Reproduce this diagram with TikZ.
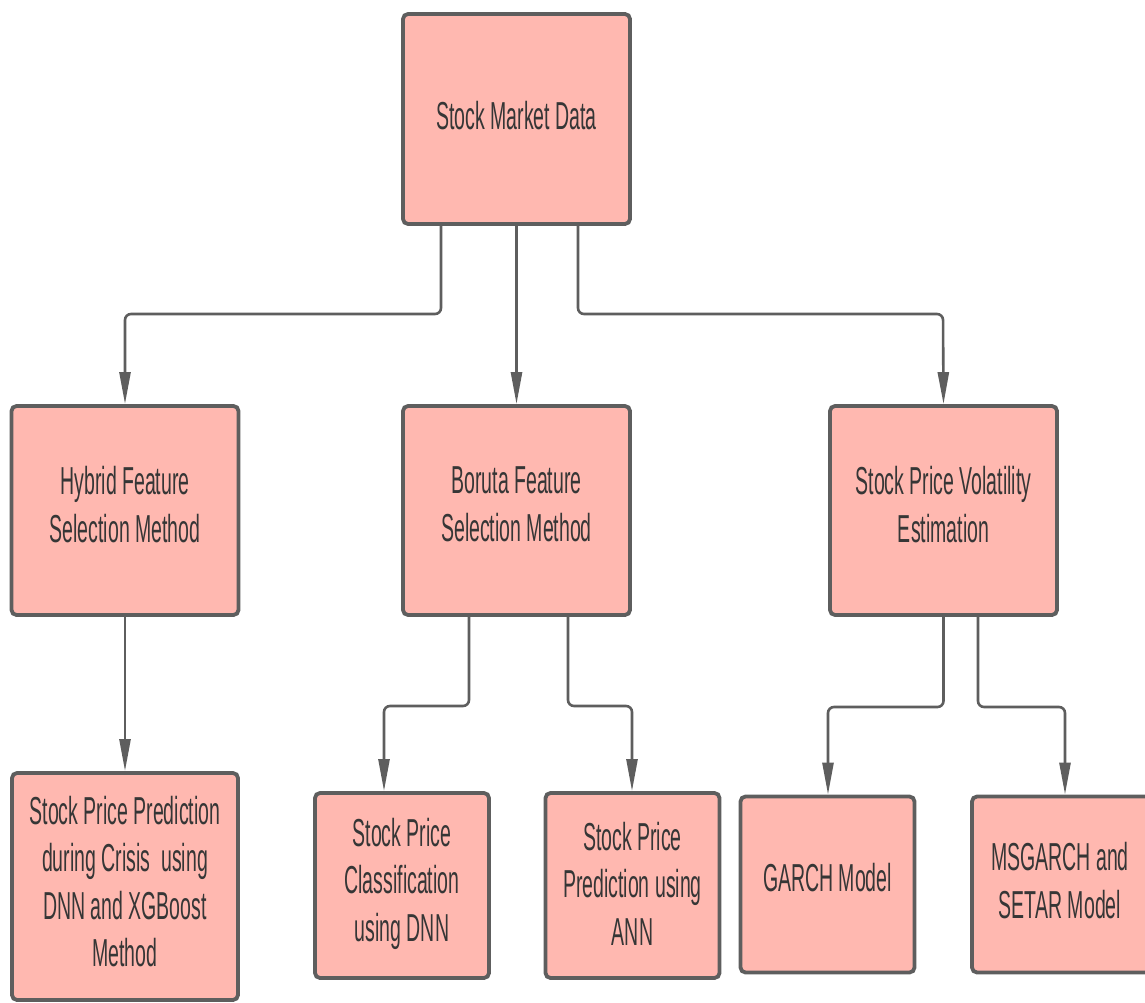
\documentclass[tikz,border=0pt]{standalone}
\usepackage{fontspec}
\setmainfont[FakeStretch=0.5]{Liberation Sans}
\usetikzlibrary{arrows.meta}
\definecolor{boxfill}{HTML}{FFB8B0}
\definecolor{boxline}{HTML}{5E5E5E}
\definecolor{inkgray}{HTML}{363636}
\begin{document}
\begin{tikzpicture}[x=1pt,y=-1pt,
  stagebox/.style={draw=boxline, fill=boxfill, line width=3.8pt, rounded corners=5pt,
    inner sep=0pt},
  stagetext/.style={align=center, text=inkgray, inner sep=0pt,
    font=\fontsize{39}{47.5}\selectfont},
  wide/.style={minimum width=227pt},
  narrow/.style={minimum width=174pt},
  conn/.style={draw=boxline, line width=2.6pt, rounded corners=6pt,
    -{Triangle[length=32pt,width=11pt]}}
]
\useasboundingbox (0,0) rectangle (1145,1003);

% stage boxes
\node[stagebox, wide, minimum height=210pt] (data) at (516.5,119) {};
\node[stagebox, wide, minimum height=209pt] (hybrid) at (125,510.5) {};
\node[stagebox, wide, minimum height=209pt] (boruta) at (516.5,510.5) {};
\node[stagebox, wide, minimum height=209pt] (vol) at (943.5,510.5) {};
\node[stagebox, minimum width=226pt, minimum height=227pt] (crisis) at (125,886.5) {};
\node[stagebox, narrow, minimum height=185pt] (dnn) at (402,885.5) {};
\node[stagebox, narrow, minimum height=185pt] (ann) at (632.5,885.5) {};
\node[stagebox, narrow, minimum height=176pt] (garch) at (827.5,884.5) {};
\node[stagebox, minimum width=182pt, minimum height=176pt] (msgarch) at (1063,884.5) {};

% stage titles
\node[stagetext] (data-t) at ([yshift=3pt]data.center) {Stock Market Data};
\node[stagetext] (hybrid-t) at ([yshift=6pt]hybrid.center) {Hybrid Feature\\Selection Method};
\node[stagetext] (boruta-t) at ([yshift=6pt]boruta.center) {Boruta Feature\\Selection Method};
\node[stagetext] (vol-t) at ([yshift=6pt]vol.center) {Stock Price Volatility\\Estimation};
\node[stagetext] (crisis-t) at ([yshift=5pt]crisis.center)
  {Stock Price Prediction\\during Crisis\ \ using\\DNN and XGBoost\\Method};
\node[stagetext] (dnn-t) at ([yshift=2pt]dnn.center) {Stock Price\\Classification\\using DNN};
\node[stagetext] (ann-t) at ([yshift=2pt]ann.center) {Stock Price\\Prediction using\\ANN};
\node[stagetext] (garch-t) at ([yshift=7pt]garch.center) {GARCH Model};
\node[stagetext] (msgarch-t) at ([xshift=-3pt,yshift=4pt]msgarch.center) {MSGARCH and\\SETAR Model};

% bends of the elbow connectors
\coordinate (b1) at (125,314);
\coordinate (b2) at (943,314);
\coordinate (b3) at (384,706);
\coordinate (b4) at (632,706);
\coordinate (b5) at (828,707);
\coordinate (b6) at (1065,707);

% connectors
\draw[conn] ([xshift=-75.5pt]data.south) |- (b1) -- (hybrid.north);
\draw[conn] (data.south) -- (boruta.north);
\draw[conn] ([xshift=61.5pt]data.south) |- (b2) -- (vol.north);
\draw[conn] (hybrid.south) -- (crisis.north);
\draw[conn] ([xshift=-47.5pt]boruta.south) |- (b3) -- (b3 |- dnn.north);
\draw[conn] ([xshift=51.5pt]boruta.south) |- (b4) -- (b4 |- ann.north);
\draw[conn] (vol.south) |- (b5) -- (b5 |- garch.north);
\draw[conn] ([xshift=34.5pt]vol.south) |- (b6) -- (b6 |- msgarch.north);
\end{tikzpicture}
\end{document}
